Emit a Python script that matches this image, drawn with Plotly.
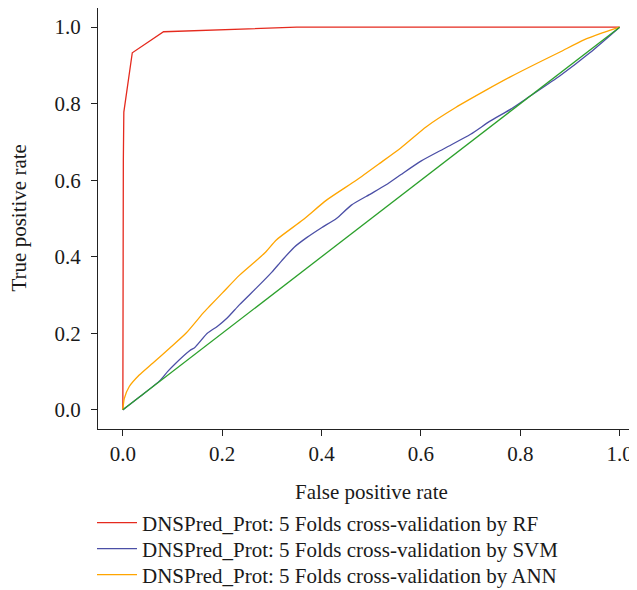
import plotly.graph_objects as go

# ---- data ----
rf_fpr = [0.0, 0.0, 0.001, 0.002, 0.019, 0.082, 0.2, 0.35, 0.6, 1.0]
rf_tpr = [0.0, 0.35, 0.65, 0.778, 0.933, 0.988, 0.994, 1.0, 1.0, 1.0]

svm_fpr = [0.0, 0.04, 0.075, 0.09, 0.105, 0.135, 0.145, 0.17, 0.19, 0.21, 0.235, 0.27,
           0.3, 0.32, 0.345, 0.37, 0.4, 0.43, 0.46, 0.5, 0.53, 0.56, 0.6, 0.65, 0.7,
           0.74, 0.78, 0.82, 0.88, 0.94, 1.0]
svm_tpr = [0.0, 0.04, 0.077, 0.1, 0.12, 0.155, 0.163, 0.2, 0.218, 0.24, 0.275, 0.32,
           0.36, 0.39, 0.425, 0.45, 0.476, 0.5, 0.535, 0.565, 0.588, 0.615, 0.65, 0.685, 0.72,
           0.755, 0.785, 0.82, 0.873, 0.933, 1.0]

ann_fpr = [0.0, 0.003, 0.013, 0.033, 0.06, 0.094, 0.127, 0.161, 0.174, 0.2, 0.235, 0.285,
           0.309, 0.362, 0.41, 0.47, 0.517, 0.56, 0.611, 0.67, 0.732, 0.78, 0.833, 0.88,
           0.927, 0.965, 1.0]
ann_tpr = [0.0, 0.03, 0.061, 0.091, 0.122, 0.161, 0.2, 0.252, 0.27, 0.305, 0.352, 0.409,
           0.444, 0.496, 0.548, 0.6, 0.644, 0.685, 0.74, 0.79, 0.836, 0.87, 0.905, 0.935,
           0.966, 0.985, 1.0]

diag_fpr = [0.0, 1.0]
diag_tpr = [0.0, 1.0]

tick_vals = [0.0, 0.2, 0.4, 0.6, 0.8, 1.0]
tick_text = ["0.0", "0.2", "0.4", "0.6", "0.8", "1.0"]

names = ["DNSPred_Prot: 5 Folds cross-validation by RF",
         "DNSPred_Prot: 5 Folds cross-validation by SVM",
         "DNSPred_Prot: 5 Folds cross-validation by ANN"]

FONT = "Liberation Serif"
FS = 21
OFF = 8            # page body margin of the browser
W, H = 637 - OFF, 590 - OFF

fig = go.Figure()
fig.add_trace(go.Scatter(x=rf_fpr, y=rf_tpr, mode="lines", name=names[0], legend="legend",
                         line=dict(color="#E52A1E", width=1.3)))
fig.add_trace(go.Scatter(x=svm_fpr, y=svm_tpr, mode="lines", name=names[1], legend="legend2",
                         line=dict(color="#4B4FA6", width=1.3, shape="spline", smoothing=0.6)))
fig.add_trace(go.Scatter(x=ann_fpr, y=ann_tpr, mode="lines", name=names[2], legend="legend3",
                         line=dict(color="#FFA500", width=1.3, shape="spline", smoothing=0.6)))
fig.add_trace(go.Scatter(x=diag_fpr, y=diag_tpr, mode="lines", showlegend=False,
                         line=dict(color="#2CA02C", width=1.3)))


def leg(y_px):
    return dict(xref="container", yref="container", x=(92 - OFF) / W, y=1 - (y_px - OFF) / H,
                xanchor="left", yanchor="middle", itemwidth=40,
                font=dict(family=FONT, size=FS, color="#1a1a1a"),
                bgcolor="rgba(0,0,0,0)", borderwidth=0)


fig.update_layout(
    width=W, height=H,
    margin=dict(l=98 - OFF, r=0, t=8 - OFF, b=590 - 429, autoexpand=False),
    paper_bgcolor="white", plot_bgcolor="white",
    font=dict(family=FONT, size=FS, color="#1a1a1a"),
    showlegend=True,
    legend=leg(523), legend2=leg(549), legend3=leg(575),
    xaxis=dict(range=[-0.05, 1.035], tickvals=tick_vals, ticktext=tick_text,
               ticks="outside", ticklen=6, tickwidth=1.2, tickcolor="#222",
               showline=True, linecolor="#222", linewidth=1.3, mirror=True,
               showgrid=False, zeroline=False,
               tickfont=dict(family=FONT, size=FS)),
    yaxis=dict(range=[-0.05, 1.05], tickvals=tick_vals, ticktext=tick_text,
               ticks="outside", ticklen=6, tickwidth=1.2, tickcolor="#222",
               showline=True, linecolor="#222", linewidth=1.3, mirror=False,
               showgrid=False, zeroline=False, ticklabelstandoff=6,
               tickfont=dict(family=FONT, size=FS)),
    annotations=[
        dict(text="False positive rate", xref="x", yref="paper", x=0.5, y=-0.1496,
             xanchor="center", yanchor="middle", showarrow=False,
             font=dict(family=FONT, size=FS)),
        dict(text="True positive rate", xref="paper", yref="paper",
             x=(18 - 98) / 539, y=0.5,
             xanchor="center", yanchor="middle", showarrow=False, textangle=-90,
             font=dict(family=FONT, size=FS)),
    ],
)

fig.write_html("out.html")
